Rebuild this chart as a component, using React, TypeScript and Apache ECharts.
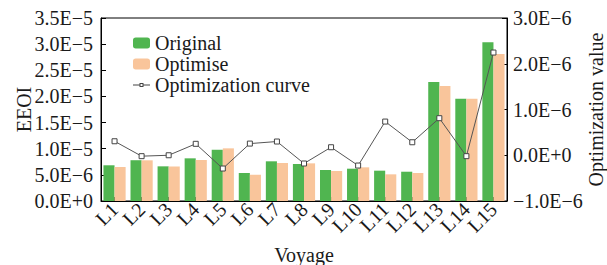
import React, { useEffect, useRef } from "react";
import * as echarts from "echarts";

const categories = ["L1", "L2", "L3", "L4", "L5", "L6", "L7", "L8", "L9", "L10", "L11", "L12", "L13", "L14", "L15"];
const originalValues = [6.83e-6, 7.8e-6, 6.63e-6, 8.16e-6, 9.8e-6, 5.36e-6, 7.59e-6, 7.08e-6, 5.93e-6, 6.18e-6, 5.8e-6, 5.6e-6, 22.76e-6, 19.57e-6, 30.35e-6];
const optimiseValues = [6.5e-6, 7.78e-6, 6.6e-6, 7.84e-6, 10.07e-6, 5.03e-6, 7.27e-6, 7.2e-6, 5.74e-6, 6.44e-6, 5.1e-6, 5.36e-6, 22.0e-6, 19.57e-6, 28.1e-6];
const curveValues = [0.306e-6, -0.02e-6, 0.0, 0.25e-6, -0.29e-6, 0.255e-6, 0.3e-6, -0.18e-6, 0.175e-6, -0.225e-6, 0.736e-6, 0.284e-6, 0.81e-6, -0.02e-6, 2.245e-6];

const FONT = "Liberation Serif";
const FS = 20;
const TXT = "#1a1a1a";

function sci(v: number): string {
  if (Math.abs(v) < 1e-15) return "0.0E+0";
  const sign = v < 0 ? "\u2212" : "";
  const a = Math.abs(v);
  let e = Math.floor(Math.log10(a) + 1e-9);
  let m = a / Math.pow(10, e);
  if (Math.round(m * 10) / 10 >= 10) {
    e += 1;
    m = a / Math.pow(10, e);
  }
  const es = e < 0 ? "\u2212" + Math.abs(e) : "+" + e;
  return sign + m.toFixed(1) + "E" + es;
}

const curveIcon =
  "path://M0,5H6.5V6H0Z M10.5,5H17V6H10.5Z M6.5,3.5H10.5V7.5H6.5Z M7.5,4.5V6.5H9.5V4.5Z";

export default function App() {
  const ref = useRef<HTMLDivElement>(null);
  useEffect(() => {
    document.body.style.margin = "0";
    document.body.style.overflow = "hidden";
    if (!ref.current) return;
    const chart = echarts.init(ref.current, undefined, { renderer: "svg" });
    const axisLine = { show: true, lineStyle: { color: "#000", width: 1 } };
    chart.setOption({
      animation: false,
      textStyle: { fontFamily: FONT, color: TXT },
      grid: {
        left: 101,
        right: 100,
        top: 18,
        bottom: 64,
        containLabel: false,
        outerBoundsMode: "none",
        show: true,
        borderColor: "#000",
        borderWidth: 1,
        backgroundColor: "transparent",
      },
      legend: {
        orient: "vertical",
        left: 128,
        top: 28,
        itemWidth: 17,
        itemHeight: 11,
        itemGap: 1,
        textStyle: { fontFamily: FONT, fontSize: FS, color: TXT },
        data: [
          { name: "Original" },
          { name: "Optimise" },
          { name: "Optimization curve", icon: curveIcon, itemStyle: { color: "#444", borderWidth: 0 } },
        ],
      },
      xAxis: {
        type: "category",
        data: categories,
        name: "Voyage",
        nameLocation: "middle",
        nameGap: 44,
        nameMoveOverlap: false,
        nameTextStyle: { fontFamily: FONT, fontSize: FS, color: TXT },
        axisLine,
        axisTick: { show: true, inside: true, alignWithLabel: true, length: 4, lineStyle: { color: "#000" } },
        axisLabel: { rotate: 45, margin: 5, fontFamily: FONT, fontSize: FS, color: TXT, interval: 0 },
      },
      yAxis: [
        {
          type: "value",
          min: 0,
          max: 3.5e-5,
          interval: 5e-6,
          name: "EEOI",
          nameLocation: "middle",
          nameGap: 67,
          nameMoveOverlap: false,
          nameTextStyle: { fontFamily: FONT, fontSize: FS, color: TXT },
          axisLine,
          axisTick: { show: true, inside: true, length: 5, lineStyle: { color: "#000" } },
          axisLabel: { margin: 8, fontFamily: FONT, fontSize: FS, color: TXT, formatter: (v: number) => sci(v) },
          splitLine: { show: false },
        },
        {
          type: "value",
          min: -1e-6,
          max: 3e-6,
          interval: 1e-6,
          name: "Optimization value",
          nameLocation: "middle",
          nameGap: 79,
          nameRotate: 90,
          nameMoveOverlap: false,
          nameTextStyle: { fontFamily: FONT, fontSize: FS, color: TXT },
          axisLine,
          axisTick: { show: true, inside: true, length: 5, lineStyle: { color: "#000" } },
          axisLabel: { margin: 6, fontFamily: FONT, fontSize: FS, color: TXT, formatter: (v: number) => sci(v) },
          splitLine: { show: false },
        },
      ],
      series: [
        {
          name: "Original",
          type: "bar",
          data: originalValues,
          barGap: "0%",
          barCategoryGap: "18%",
          itemStyle: { color: "#50b550" },
        },
        {
          name: "Optimise",
          type: "bar",
          data: optimiseValues,
          itemStyle: { color: "#f9c59b" },
        },
        {
          name: "Optimization curve",
          type: "line",
          yAxisIndex: 1,
          data: curveValues,
          symbol: "rect",
          symbolSize: 5,
          showSymbol: true,
          lineStyle: { color: "#555", width: 1 },
          itemStyle: { color: "#fff", borderColor: "#444", borderWidth: 1 },
          z: 5,
        },
      ],
    });
    return () => chart.dispose();
  }, []);
  return <div ref={ref} style={{ width: 607, height: 265 }} />;
}
